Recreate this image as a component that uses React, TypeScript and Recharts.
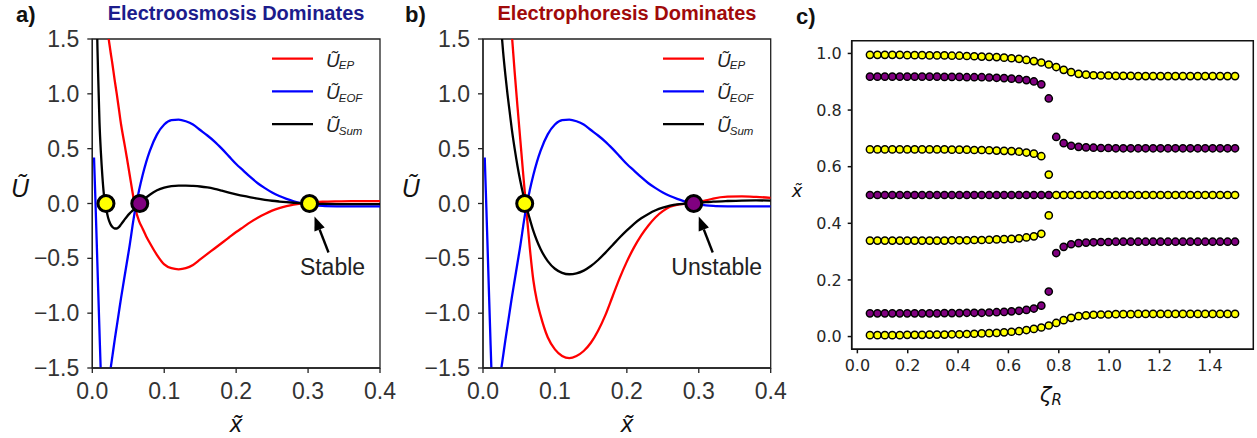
import React from "react";
import {
  ComposedChart,
  Line,
  XAxis,
  YAxis,
  ReferenceDot,
  ReferenceArea,
  Legend,
  ScatterChart,
  Scatter,
} from "recharts";

const ARIAL = '"Liberation Sans", Arial, sans-serif';
const DEJAVU = '"DejaVu Sans", sans-serif';
const YELLOW = "#ffff00";
const PURPLE = "#800080";
const U_TILDE = "U\u0303";
const X_TILDE = "x\u0303";

// x~ sample points shared by both potential panels
const X_GRID = [
  0.0024, 0.004, 0.006, 0.008, 0.01, 0.012, 0.014, 0.016, 0.018, 0.02, 0.022,
  0.025, 0.028, 0.031, 0.034, 0.037, 0.04, 0.044, 0.048, 0.052, 0.056,
  0.06, 0.065, 0.07, 0.075, 0.08, 0.09, 0.1, 0.11, 0.12, 0.13, 0.14, 0.15,
  0.16, 0.17, 0.18, 0.19, 0.2, 0.21, 0.22, 0.23, 0.24, 0.25, 0.26, 0.27,
  0.28, 0.29, 0.3, 0.31, 0.32, 0.34, 0.36, 0.38, 0.4,
];

// electroosmotic contribution (same in a and b)
const U_EOF = [
  0.42, 0.1, -0.32, -0.75, -1.17, -1.58, -1.9, -2.05, -2.05, -1.9, -1.72,
  -1.53, -1.39, -1.25, -1.12, -0.99, -0.86, -0.7, -0.54, -0.38, -0.2,
  -0.04, 0.12, 0.26, 0.38, 0.48, 0.63, 0.72, 0.76, 0.765, 0.75, 0.72, 0.67,
  0.62, 0.565, 0.5, 0.43, 0.36, 0.3, 0.24, 0.185, 0.14, 0.1, 0.068, 0.042,
  0.02, 0.003, -0.009, -0.017, -0.022, -0.026, -0.027, -0.027, -0.026,
];

// panel a: electroosmosis dominates
const U_EP_A = [
  9.0, 7.5, 6.0, 5.0, 4.2, 3.5, 2.9, 2.4, 2.05, 1.72, 1.55,
  1.4, 1.27, 1.13, 1.0, 0.86, 0.72, 0.57, 0.42, 0.26, 0.1,
  -0.05, -0.16, -0.23, -0.3, -0.36, -0.47, -0.555, -0.59, -0.6, -0.59, -0.56, -0.51,
  -0.46, -0.41, -0.36, -0.31, -0.26, -0.215, -0.17, -0.13, -0.095, -0.065, -0.042, -0.024,
  -0.01, 0.0, 0.007, 0.012, 0.016, 0.02, 0.022, 0.022, 0.021,
];
const U_SUM_A = [
  6.0, 4.2, 1.95, 1.2, 0.74, 0.46, 0.25, 0.09, 0.0, -0.07, -0.13,
  -0.185, -0.215, -0.228, -0.228, -0.215, -0.19, -0.155, -0.12, -0.09, -0.065,
  -0.04, -0.005, 0.025, 0.055, 0.08, 0.12, 0.145, 0.158, 0.163, 0.163, 0.16, 0.155,
  0.146, 0.133, 0.117, 0.1, 0.084, 0.069, 0.056, 0.044, 0.034, 0.025, 0.018, 0.012,
  0.007, 0.003, 0.0, -0.002, -0.003, -0.005, -0.005, -0.005, -0.005,
];

// panel b: electrophoresis dominates
const U_EP_B = [
  12, 11, 10, 9, 8.1, 7.2, 6.4, 5.6, 4.9, 4.3, 3.8,
  3.2, 2.77, 2.43, 2.12, 1.83, 1.55, 1.2, 0.88, 0.57, 0.26,
  -0.04, -0.4, -0.7, -0.89, -1.02, -1.22, -1.33, -1.39, -1.41, -1.39, -1.345, -1.27,
  -1.16, -1.02, -0.85, -0.68, -0.53, -0.4, -0.29, -0.2, -0.125, -0.07, -0.03, -0.012,
  -0.004, 0.004, 0.016, 0.028, 0.045, 0.062, 0.065, 0.06, 0.052,
];
const U_SUM_B = [
  7.6, 6.8, 5.8, 5.0, 4.3, 3.7, 3.2, 2.8, 2.45, 2.15, 1.9,
  1.62, 1.38, 1.18, 1.0, 0.84, 0.68, 0.5, 0.34, 0.2, 0.08,
  -0.02, -0.14, -0.25, -0.34, -0.415, -0.525, -0.595, -0.632, -0.645, -0.637, -0.612, -0.57,
  -0.515, -0.45, -0.38, -0.31, -0.245, -0.185, -0.135, -0.095, -0.062, -0.038, -0.02, -0.008,
  -0.002, 0.002, 0.007, 0.012, 0.017, 0.023, 0.027, 0.028, 0.027,
];

// equilibrium points on each potential
const ROOTS_A = [
  { x: 0.019, fill: YELLOW },
  { x: 0.066, fill: PURPLE },
  { x: 0.302, fill: YELLOW },
];
const ROOTS_B = [
  { x: 0.058, fill: YELLOW },
  { x: 0.293, fill: PURPLE },
];

const U_TICKS = [-1.5, -1.0, -0.5, 0.0, 0.5, 1.0, 1.5];
const X_TICKS = [0.0, 0.1, 0.2, 0.3, 0.4];

// panel c: equilibrium positions vs zeta_R
const ZETA = [
  0.05, 0.0796, 0.1092, 0.1388, 0.1684, 0.198, 0.2276, 0.2571, 0.2867, 0.3163,
  0.3459, 0.3755, 0.4051, 0.4347, 0.4643, 0.4939, 0.5235, 0.5531, 0.5827, 0.6122,
  0.6418, 0.6714, 0.701, 0.7306, 0.7602, 0.7898, 0.8194, 0.849, 0.8786, 0.9082,
  0.9378, 0.9673, 0.9969, 1.0265, 1.0561, 1.0857, 1.1153, 1.1449, 1.1745, 1.2041,
  1.2337, 1.2633, 1.2929, 1.3224, 1.352, 1.3816, 1.4112, 1.4408, 1.4704, 1.5,
];
const TOP_Y = [
  0.995, 0.995, 0.995, 0.995, 0.995, 0.994, 0.994, 0.994, 0.993, 0.993,
  0.993, 0.992, 0.992, 0.991, 0.99, 0.989, 0.988, 0.987, 0.985, 0.983,
  0.981, 0.977, 0.973, 0.968, 0.961, 0.952, 0.942, 0.934, 0.928, 0.925,
  0.923, 0.922, 0.922, 0.921, 0.921, 0.921, 0.92, 0.92, 0.92, 0.92,
  0.92, 0.92, 0.92, 0.92, 0.92, 0.92, 0.92, 0.92, 0.92, 0.92,
];
const BOTTOM_Y = [
  0.005, 0.005, 0.005, 0.005, 0.005, 0.006, 0.006, 0.006, 0.007, 0.007,
  0.007, 0.008, 0.008, 0.009, 0.01, 0.011, 0.012, 0.013, 0.015, 0.017,
  0.019, 0.023, 0.027, 0.032, 0.039, 0.048, 0.058, 0.066, 0.072, 0.075,
  0.077, 0.078, 0.078, 0.079, 0.079, 0.079, 0.08, 0.08, 0.08, 0.08,
  0.08, 0.08, 0.08, 0.08, 0.08, 0.08, 0.08, 0.08, 0.08, 0.08,
];
// branches that exist below the transition (first 25 zeta values)
const UPPER_P = [
  0.918, 0.918, 0.918, 0.918, 0.918, 0.918, 0.918, 0.918, 0.918, 0.918,
  0.917, 0.917, 0.917, 0.916, 0.916, 0.916, 0.915, 0.914, 0.913, 0.911,
  0.909, 0.906, 0.901, 0.891, 0.841,
];
const UPPER_MID_Y = [
  0.661, 0.661, 0.661, 0.661, 0.661, 0.661, 0.661, 0.661, 0.661, 0.661,
  0.661, 0.66, 0.66, 0.66, 0.659, 0.659, 0.658, 0.657, 0.656, 0.655,
  0.653, 0.65, 0.646, 0.637, 0.572,
];
const MID_P = [
  0.5, 0.5, 0.5, 0.5, 0.5, 0.5, 0.5, 0.5, 0.5, 0.5,
  0.5, 0.5, 0.5, 0.5, 0.5, 0.5, 0.5, 0.5, 0.5, 0.5,
  0.5, 0.5, 0.5, 0.5, 0.5,
];
const LOWER_MID_Y = [
  0.339, 0.339, 0.339, 0.339, 0.339, 0.339, 0.339, 0.339, 0.339, 0.339,
  0.339, 0.34, 0.34, 0.34, 0.341, 0.341, 0.342, 0.343, 0.344, 0.345,
  0.347, 0.35, 0.354, 0.363, 0.428,
];
const LOWER_P = [
  0.082, 0.082, 0.082, 0.082, 0.082, 0.082, 0.082, 0.082, 0.082, 0.082,
  0.083, 0.083, 0.083, 0.084, 0.084, 0.084, 0.085, 0.086, 0.087, 0.089,
  0.091, 0.094, 0.099, 0.109, 0.159,
];
// branches above the transition (last 25 zeta values)
const UPPER_MID_P = [
  0.705, 0.683, 0.674, 0.67, 0.668, 0.667, 0.666, 0.666, 0.665, 0.665,
  0.665, 0.665, 0.665, 0.665, 0.665, 0.665, 0.665, 0.665, 0.665, 0.665,
  0.665, 0.665, 0.665, 0.665, 0.665,
];
const MID_Y = [
  0.5, 0.5, 0.5, 0.5, 0.5, 0.5, 0.5, 0.5, 0.5, 0.5,
  0.5, 0.5, 0.5, 0.5, 0.5, 0.5, 0.5, 0.5, 0.5, 0.5,
  0.5, 0.5, 0.5, 0.5, 0.5,
];
const LOWER_MID_P = [
  0.295, 0.317, 0.326, 0.33, 0.332, 0.333, 0.334, 0.334, 0.335, 0.335,
  0.335, 0.335, 0.335, 0.335, 0.335, 0.335, 0.335, 0.335, 0.335, 0.335,
  0.335, 0.335, 0.335, 0.335, 0.335,
];

const Z_TICKS = [0, 0.2, 0.4, 0.6, 0.8, 1.0, 1.2, 1.4];
const XC_TICKS = [0, 0.2, 0.4, 0.6, 0.8, 1.0];

const fmt = (v: number) => (v < 0 ? "\u2212" : "") + Math.abs(v).toFixed(1);

const pair = (zs: number[], vs: number[]) => vs.map((v, i) => ({ z: zs[i], v }));
const LOW_Z = ZETA.slice(0, 25);
const HIGH_Z = ZETA.slice(25);

const BRANCHES = [
  { data: pair(LOW_Z, MID_P), fill: PURPLE },
  { data: pair(LOW_Z, UPPER_P), fill: PURPLE },
  { data: pair(LOW_Z, LOWER_P), fill: PURPLE },
  { data: pair(HIGH_Z, UPPER_MID_P), fill: PURPLE },
  { data: pair(HIGH_Z, LOWER_MID_P), fill: PURPLE },
  { data: pair(ZETA, TOP_Y), fill: YELLOW },
  { data: pair(ZETA, BOTTOM_Y), fill: YELLOW },
  { data: pair(LOW_Z, UPPER_MID_Y), fill: YELLOW },
  { data: pair(LOW_Z, LOWER_MID_Y), fill: YELLOW },
  { data: pair(HIGH_Z, MID_Y), fill: YELLOW },
];

const SERIES = [
  { key: "ep", color: "#ff0000", sub: "EP" },
  { key: "eof", color: "#0000ff", sub: "EOF" },
  { key: "sum", color: "#000000", sub: "Sum" },
];

function PotentialLegend() {
  return (
    <svg width={120} height={100} style={{ overflow: "visible" }}>
      {SERIES.map((s, i) => {
        const yc = 18.7 + i * 32.7;
        return (
          <g key={s.key}>
            <line x1={2} x2={43} y1={yc} y2={yc} stroke={s.color} strokeWidth={2.2} />
            <text x={56} y={yc + 8} fontSize={19} fontFamily={ARIAL} fontStyle="italic" fill="#222">
              {U_TILDE}
              <tspan fontSize={11.5} dx={-1} dy={2.5}>{s.sub}</tspan>
            </text>
          </g>
        );
      })}
    </svg>
  );
}

function Annotation({ cx, cy, text }: { cx: number; cy: number; text: string }) {
  const tip = { x: cx + 5, y: cy + 13 };
  const tail = { x: cx + 19, y: cy + 49 };
  const a = Math.atan2(tip.y - tail.y, tip.x - tail.x);
  const hl = 14;
  const hw = 5.5;
  const bx = tip.x - hl * Math.cos(a);
  const by = tip.y - hl * Math.sin(a);
  const head = [
    `${tip.x},${tip.y}`,
    `${bx + hw * Math.sin(a)},${by - hw * Math.cos(a)}`,
    `${bx - hw * Math.sin(a)},${by + hw * Math.cos(a)}`,
  ].join(" ");
  return (
    <g>
      <line x1={tail.x} y1={tail.y} x2={bx} y2={by} stroke="#000" strokeWidth={2.4} />
      <polygon points={head} fill="#000" />
      <text x={cx + 23} y={cy + 71} fontSize={23} fontFamily={ARIAL} textAnchor="middle" fill="#222">
        {text}
      </text>
    </g>
  );
}

function PotentialPanel({
  left,
  axisWidth,
  rightPad,
  legendLeft,
  ep,
  sum,
  roots,
  note,
}: {
  left: number;
  axisWidth: number;
  rightPad: number;
  legendLeft: number;
  ep: number[];
  sum: number[];
  roots: { x: number; fill: string }[];
  note: { x: number; text: string };
}) {
  const data = X_GRID.map((x, i) => ({ x, ep: ep[i], eof: U_EOF[i], sum: sum[i] }));
  const axisStyle = { stroke: "#222", strokeWidth: 1.3 };
  const tickStyle = { fill: "#333", fontSize: 23, fontFamily: ARIAL };
  return (
    <div style={{ position: "absolute", left, top: 0 }}>
      <ComposedChart
        width={400}
        height={438}
        data={data}
        margin={{ top: 39, right: rightPad, bottom: 30, left: 0 }}
      >
        <XAxis
          type="number"
          dataKey="x"
          domain={[0, 0.4]}
          ticks={X_TICKS}
          allowDataOverflow
          height={40}
          tickSize={5}
          tickMargin={10}
          tickFormatter={fmt}
          tick={tickStyle}
          axisLine={axisStyle}
          tickLine={axisStyle}
        />
        <YAxis
          type="number"
          domain={[-1.5, 1.5]}
          ticks={U_TICKS}
          allowDataOverflow
          width={axisWidth}
          tickSize={5}
          tickMargin={8}
          tickFormatter={fmt}
          tick={tickStyle}
          axisLine={axisStyle}
          tickLine={axisStyle}
        />
        <ReferenceArea x1={0} x2={0.4} y1={-1.5} y2={1.5} fill="none" stroke="#222" strokeWidth={1.3} ifOverflow="visible" />
        {SERIES.map((s) => (
          <Line
            key={s.key}
            dataKey={s.key}
            type="monotone"
            stroke={s.color}
            strokeWidth={2.3}
            dot={false}
            activeDot={false}
            isAnimationActive={false}
          />
        ))}
        {roots.map((r) => (
          <ReferenceDot key={r.x} x={r.x} y={0} r={8} fill={r.fill} stroke="#000" strokeWidth={3} />
        ))}
        <ReferenceDot
          x={note.x}
          y={0}
          r={0}
          shape={(p: any) => <Annotation cx={p.cx} cy={p.cy} text={note.text} />}
        />
        <Legend
          layout="vertical"
          align="center"
          verticalAlign="middle"
          wrapperStyle={{ left: legendLeft, top: 40, width: 120, height: 100 }}
          content={() => <PotentialLegend />}
        />
      </ComposedChart>
    </div>
  );
}

function RootDot(fill: string) {
  return (p: any) => <circle cx={p.cx} cy={p.cy} r={3.6} fill={fill} stroke="#000" strokeWidth={1.5} />;
}

function BifurcationPanel() {
  const axisStyle = { stroke: "#111", strokeWidth: 1.5 };
  const tickStyle = { fill: "#262626", fontSize: 16, fontFamily: DEJAVU };
  return (
    <div style={{ position: "absolute", left: 800, top: 0 }}>
      <ScatterChart width={457} height={438} margin={{ top: 40.7, right: 3.7, bottom: 48.7, left: 0 }}>
        <XAxis
          type="number"
          dataKey="z"
          domain={[-0.0225, 1.5725]}
          ticks={Z_TICKS}
          allowDataOverflow
          height={40}
          tickSize={4}
          tickMargin={6}
          tickFormatter={(v: number) => v.toFixed(1)}
          tick={tickStyle}
          axisLine={axisStyle}
          tickLine={axisStyle}
        />
        <YAxis
          type="number"
          dataKey="v"
          domain={[-0.045, 1.045]}
          ticks={XC_TICKS}
          allowDataOverflow
          width={51.7}
          tickSize={4}
          tickMargin={6}
          tickFormatter={(v: number) => v.toFixed(1)}
          tick={tickStyle}
          axisLine={axisStyle}
          tickLine={axisStyle}
        />
        <ReferenceArea x1={-0.0225} x2={1.5725} y1={-0.045} y2={1.045} fill="none" stroke="#111" strokeWidth={1.5} ifOverflow="visible" />
        {BRANCHES.map((b, i) => (
          <Scatter key={i} data={b.data} fill={b.fill} shape={RootDot(b.fill)} isAnimationActive={false} />
        ))}
      </ScatterChart>
    </div>
  );
}

export default function App() {
  return (
    <div style={{ position: "absolute", left: 0, top: 0, width: 1257, height: 438, background: "#fff" }}>
      <PotentialPanel
        left={0}
        axisWidth={92.3}
        rightPad={20}
        legendLeft={270}
        ep={U_EP_A}
        sum={U_SUM_A}
        roots={ROOTS_A}
        note={{ x: 0.302, text: "Stable" }}
      />
      <PotentialPanel
        left={400}
        axisWidth={83}
        rightPad={29.3}
        legendLeft={261}
        ep={U_EP_B}
        sum={U_SUM_B}
        roots={ROOTS_B}
        note={{ x: 0.293, text: "Unstable" }}
      />
      <BifurcationPanel />
      <svg
        width={1257}
        height={438}
        style={{ position: "absolute", left: 0, top: 0, pointerEvents: "none", overflow: "visible" }}
      >
        <text x={16} y={22} fontSize={22} fontWeight="bold" fontFamily={ARIAL} fill="#111">a)</text>
        <text x={405} y={22} fontSize={22} fontWeight="bold" fontFamily={ARIAL} fill="#111">b)</text>
        <text x={796} y={24} fontSize={22} fontWeight="bold" fontFamily={ARIAL} fill="#111">c)</text>
        <text x={236} y={20} fontSize={20} fontWeight="bold" fontFamily={ARIAL} fill="#1c1c8c" textAnchor="middle">
          Electroosmosis Dominates
        </text>
        <text x={627} y={20} fontSize={20} fontWeight="bold" fontFamily={ARIAL} fill="#a00a0a" textAnchor="middle">
          Electrophoresis Dominates
        </text>

        {/* axis labels of the potential panels */}
        <text x={20} y={196.7} fontSize={25} fontStyle="italic" fontFamily={ARIAL} textAnchor="middle" fill="#111">
          {U_TILDE}
        </text>
        <text x={410.7} y={196.7} fontSize={25} fontStyle="italic" fontFamily={ARIAL} textAnchor="middle" fill="#111">
          {U_TILDE}
        </text>
        <text x={236} y={431.7} fontSize={24} fontStyle="italic" fontFamily={ARIAL} textAnchor="middle" fill="#111">
          {X_TILDE}
        </text>
        <text x={627} y={431.7} fontSize={24} fontStyle="italic" fontFamily={ARIAL} textAnchor="middle" fill="#111">
          {X_TILDE}
        </text>

        {/* panel c labels */}
        <text x={797} y={196.7} fontSize={18} fontStyle="italic" fontFamily={DEJAVU} textAnchor="middle" fill="#111">
          {X_TILDE}
        </text>
        <text x={1040} y={402} fontSize={21} fontStyle="italic" fontFamily={DEJAVU} fill="#111">
          ζ<tspan fontSize={15} dy={3}>R</tspan>
        </text>
      </svg>
    </div>
  );
}
